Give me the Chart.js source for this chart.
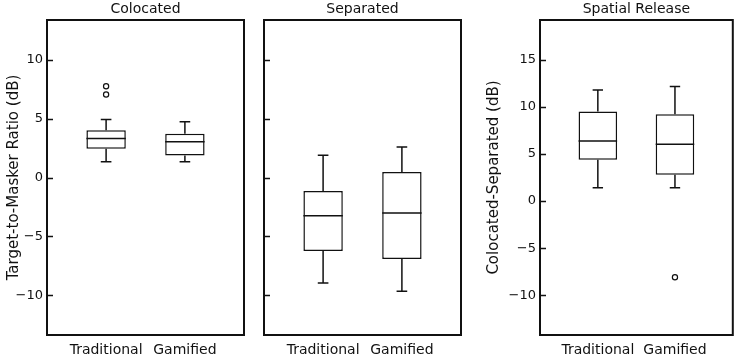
<!DOCTYPE html>
<html>
<head>
<meta charset="utf-8">
<script src="https://cdn.jsdelivr.net/npm/chart.js@4.4.0/dist/chart.umd.min.js"></script>
<style>
  body { margin: 0; background: #fff; }
  #wrap { position: relative; width: 738px; height: 356px; }
  canvas { position: absolute; top: 0; }
</style>
</head>
<body>
<div id="wrap">
  <canvas id="colocated" width="250" height="356" style="left:0px"></canvas>
  <canvas id="separated" width="230" height="356" style="left:250px"></canvas>
  <canvas id="release" width="258" height="356" style="left:480px"></canvas>
</div>
<script>
// groups on the x axis
const groups = ['Traditional', 'Gamified'];

// Colocated (dB)
const colocatedMin = [1.33, 1.33];
const colocatedQ1 = [2.43, 1.86];
const colocatedMedian = [3.3, 3.03];
const colocatedQ3 = [4.0, 3.7];
const colocatedMax = [4.92, 4.72];
const colocatedOutliers = [[7.03, 7.74], []];

// Separated (dB)
const separatedMin = [-8.94, -9.64];
const separatedQ1 = [-6.23, -6.9];
const separatedMedian = [-3.24, -3.0];
const separatedQ3 = [-1.14, 0.47];
const separatedMax = [1.88, 2.58];
const separatedOutliers = [[], []];

// Spatial release = colocated - separated (dB)
const releaseMin = [1.4, 1.4];
const releaseQ1 = [4.37, 2.78];
const releaseMedian = [6.38, 6.03];
const releaseQ3 = [9.49, 9.21];
const releaseMax = [11.79, 12.14];
const releaseOutliers = [[], [-8.07]];

// tick labels
const tmrTicks = [-10, -5, 0, 5, 10];
const releaseTicks = [-10, -5, 0, 5, 10, 15];

const FONT = 'DejaVu Sans';
const INK = '#111';

// whiskers, medians, inward ticks, frame and panel title
const boxPlotPlugin = {
  id: 'boxPlot',
  afterDatasetsDraw(chart, args, opts) {
    const ctx = chart.ctx;
    const xs = chart.scales.x, ys = chart.scales.y;
    const bars = chart.getDatasetMeta(0).data;
    ctx.save();
    ctx.strokeStyle = INK;
    ctx.lineWidth = 1.5;
    opts.median.forEach((m, i) => {
      const x = xs.getPixelForValue(i + 1);
      const half = xs.getPixelForValue(i + 1 + opts.capWidth / 2) - x;
      const bar = bars[i].getProps(['x', 'width'], true);
      ctx.beginPath();
      // median
      ctx.moveTo(bar.x - bar.width / 2, ys.getPixelForValue(m));
      ctx.lineTo(bar.x + bar.width / 2, ys.getPixelForValue(m));
      // upper whisker
      ctx.moveTo(x, ys.getPixelForValue(opts.q3[i]));
      ctx.lineTo(x, ys.getPixelForValue(opts.max[i]));
      ctx.moveTo(x - half, ys.getPixelForValue(opts.max[i]));
      ctx.lineTo(x + half, ys.getPixelForValue(opts.max[i]));
      // lower whisker
      ctx.moveTo(x, ys.getPixelForValue(opts.q1[i]));
      ctx.lineTo(x, ys.getPixelForValue(opts.min[i]));
      ctx.moveTo(x - half, ys.getPixelForValue(opts.min[i]));
      ctx.lineTo(x + half, ys.getPixelForValue(opts.min[i]));
      ctx.stroke();
    });
    ctx.restore();
  },
  afterDraw(chart, args, opts) {
    const ctx = chart.ctx;
    const a = chart.chartArea;
    const ys = chart.scales.y;
    ctx.save();
    ctx.strokeStyle = INK;
    ctx.lineWidth = 1.5;
    ctx.beginPath();
    ys.ticks.forEach(t => {
      const y = Math.round(ys.getPixelForValue(t.value)) + 0.5;
      ctx.moveTo(a.left, y);
      ctx.lineTo(a.left + 6, y);
    });
    ctx.stroke();
    ctx.lineWidth = 2;
    ctx.strokeRect(a.left, a.top, a.right - a.left, a.bottom - a.top);
    ctx.fillStyle = INK;
    ctx.font = '14px "' + FONT + '"';
    ctx.textAlign = 'center';
    ctx.textBaseline = 'alphabetic';
    ctx.fillText(opts.title, (a.left + a.right) / 2, a.top - 7);
    ctx.restore();
  }
};

function makePanel(id, title, yTitle, yMin, yMax, yTicks, showLabels, axisWidth, padRight,
                   min, q1, median, q3, max, outliers) {
  const boxes = groups.map((g, i) => ({ x: i + 1, y: [q1[i], q3[i]] }));
  const points = [];
  outliers.forEach((list, i) => list.forEach(v => points.push({ x: i + 1, y: v })));

  new Chart(document.getElementById(id), {
    type: 'bar',
    data: {
      datasets: [{
        data: boxes,
        backgroundColor: '#fff',
        borderColor: INK,
        borderWidth: 1.5,
        borderSkipped: false,
        barPercentage: 0.5,
        categoryPercentage: 1.0
      }, {
        type: 'scatter',
        data: points,
        pointRadius: 2.6,
        pointBackgroundColor: '#fff',
        pointBorderColor: INK,
        pointBorderWidth: 1.2
      }]
    },
    options: {
      responsive: false,
      animation: false,
      layout: { padding: { top: 20, right: padRight, left: 0, bottom: 0 } },
      plugins: {
        legend: { display: false },
        tooltip: { enabled: false },
        boxPlot: { title: title, capWidth: 0.135, min: min, q1: q1, median: median, q3: q3, max: max }
      },
      scales: {
        x: {
          type: 'linear',
          min: 0.25,
          max: 2.75,
          offset: false,
          bounds: 'data',
          grid: { display: false, offset: false, drawTicks: false },
          border: { display: false },
          afterBuildTicks: s => { s.ticks = groups.map((g, i) => ({ value: i + 1 })); },
          afterFit: s => { s.height = 21; },
          ticks: {
            autoSkip: false,
            maxRotation: 0,
            padding: 7,
            color: INK,
            font: { family: FONT, size: 14 },
            callback: v => groups[Math.round(v) - 1]
          }
        },
        y: {
          min: yMin,
          max: yMax,
          grid: { display: false, drawTicks: false },
          border: { display: false },
          afterBuildTicks: s => { s.ticks = yTicks.map(v => ({ value: v })); },
          afterFit: s => { s.width = axisWidth; },
          ticks: {
            display: showLabels,
            padding: 4,
            color: INK,
            font: { family: FONT, size: 13 },
            callback: v => v < 0 ? '\u2212' + Math.abs(v) : String(v)
          },
          title: {
            display: !!yTitle,
            text: yTitle,
            color: INK,
            font: { family: FONT, size: 15 },
            padding: { top: 5, bottom: 0 }
          }
        }
      }
    },
    plugins: [boxPlotPlugin]
  });
}

makePanel('colocated', 'Colocated', 'Target-to-Masker Ratio (dB)', -13.35, 13.35, tmrTicks, true, 47, 6,
  colocatedMin, colocatedQ1, colocatedMedian, colocatedQ3, colocatedMax, colocatedOutliers);
makePanel('separated', 'Separated', '', -13.35, 13.35, tmrTicks, false, 14, 19,
  separatedMin, separatedQ1, separatedMedian, separatedQ3, separatedMax, separatedOutliers);
makePanel('release', 'Spatial Release', 'Colocated-Separated (dB)', -14.2, 19.2, releaseTicks, true, 60, 3,
  releaseMin, releaseQ1, releaseMedian, releaseQ3, releaseMax, releaseOutliers);
</script>
</body>
</html>
